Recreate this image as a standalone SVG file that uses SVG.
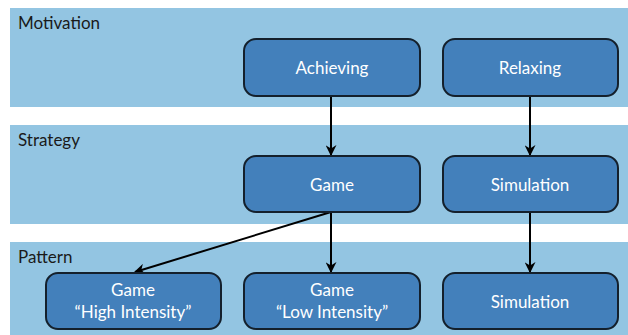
<svg xmlns="http://www.w3.org/2000/svg" width="628" height="335" viewBox="0 0 628 335">
<defs>
<style>
.band{fill:#93c5e2}
.node{fill:#4380bb;stroke:#14202c;stroke-width:2}
.lbl{font-family:Lato,"Open Sans",sans-serif;font-size:17px;fill:#1a1a1a}
.nt{font-family:Lato,"Open Sans",sans-serif;font-size:17px;fill:#ffffff;text-anchor:middle}
.edge{stroke:#000;stroke-width:2;fill:none;marker-end:url(#ah)}
</style>
<marker id="ah" viewBox="0 0 10 10" refX="9" refY="5" markerWidth="5.5" markerHeight="5.5" orient="auto" markerUnits="strokeWidth">
<path d="M0,0 L10,5 L0,10 L3,5 Z" fill="#000"/>
</marker>
</defs>
<rect width="628" height="335" fill="#ffffff"/>
<g id="bands">
<rect class="band" x="10" y="8" width="618" height="99"/>
<rect class="band" x="10" y="125" width="618" height="99"/>
<rect class="band" x="10" y="242" width="618" height="93"/>
<text class="lbl" x="18" y="29">Motivation</text>
<text class="lbl" x="18" y="146">Strategy</text>
<text class="lbl" x="18" y="263">Pattern</text>
</g>
<g id="connectors">
<line class="edge" x1="331" y1="96" x2="331" y2="155"/>
<line class="edge" x1="530" y1="96" x2="530" y2="155"/>
<line class="edge" x1="331" y1="212" x2="135" y2="272"/>
<line class="edge" x1="331" y1="212" x2="331" y2="272"/>
<line class="edge" x1="530" y1="212" x2="530" y2="272"/>
</g>
<g id="achieving">
<rect class="node" x="244" y="39" width="176" height="57" rx="12"/>
<text class="nt" x="332" y="74">Achieving</text>
</g>
<g id="relaxing">
<rect class="node" x="443" y="39" width="175" height="57" rx="12"/>
<text class="nt" x="530" y="74">Relaxing</text>
</g>
<g id="game">
<rect class="node" x="244" y="156" width="176" height="56" rx="12"/>
<text class="nt" x="332" y="191">Game</text>
</g>
<g id="simulation1">
<rect class="node" x="443" y="156" width="175" height="56" rx="12"/>
<text class="nt" x="530" y="191">Simulation</text>
</g>
<g id="game-high">
<rect class="node" x="46" y="273" width="175" height="56" rx="12"/>
<text class="nt" x="133" y="296">Game</text>
<text class="nt" x="133" y="318">“High Intensity”</text>
</g>
<g id="game-low">
<rect class="node" x="244" y="273" width="176" height="56" rx="12"/>
<text class="nt" x="332" y="296">Game</text>
<text class="nt" x="332" y="318">“Low Intensity”</text>
</g>
<g id="simulation2">
<rect class="node" x="443" y="273" width="175" height="56" rx="12"/>
<text class="nt" x="530" y="308">Simulation</text>
</g>
</svg>
